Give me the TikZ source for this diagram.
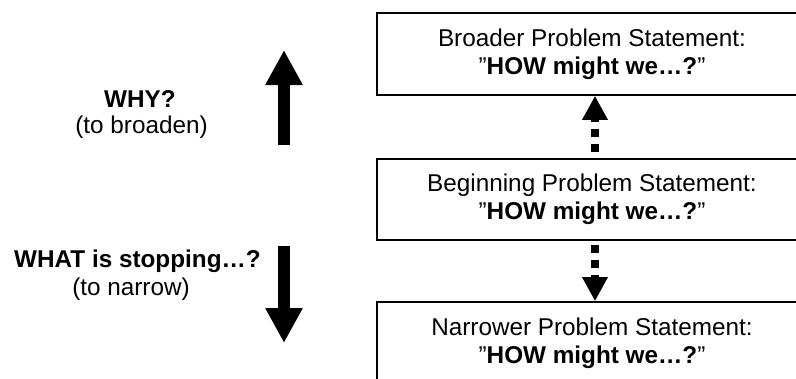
\documentclass[tikz,border=0pt]{standalone}
\usepackage{fontspec}
\setmainfont{Liberation Sans}
\usetikzlibrary{arrows.meta}
\begin{document}
\begin{tikzpicture}[x=1pt,y=-1pt,
  stmt/.style={draw=black, line width=1.6pt, minimum width=430pt,
    minimum height=82pt, inner sep=0pt, align=center,
    font=\fontsize{24.3}{28}\selectfont},
  lbl/.style={font=\fontsize{24.3}{26}\selectfont, anchor=base, inner sep=0pt},
  bigarrow/.style={line width=12.3pt, -{Triangle[length=35pt,width=35pt]}},
  hop/.style={line width=8pt, dash pattern=on 8pt off 7pt,
    -{Triangle[length=24pt,width=24pt]}}
]
\useasboundingbox (0,0) rectangle (796,378);

% problem statements, from broad to narrow
\node[stmt] (broad) at (592,54)
  {Broader Problem Statement:\\”\textbf{HOW might we…?}”};
\node[stmt, minimum height=81pt] (begin) at (592,199.5)
  {Beginning Problem Statement:\\”\textbf{HOW might we…?}”};
\node[stmt] (narrow) at (592,343)
  {Narrower Problem Statement:\\”\textbf{HOW might we…?}”};

% dotted links between the statements
\draw[hop, dash phase=9pt] ([xshift=3pt]begin.north) -- ([xshift=3pt]broad.south);
\draw[hop, dash phase=11pt] ([xshift=3pt]begin.south) -- ([xshift=3pt]narrow.north);

% side labels
\node[lbl] (why) at (140,107.3) {\textbf{WHY?}};
\node[lbl] (whysub) at (141.5,133.3) {(to broaden)};
\node[lbl] (what) at (137.5,267.3) {\textbf{WHAT is stopping…?}};
\node[lbl] (whatsub) at (131,295) {(to narrow)};

% big direction arrows
\coordinate (upfoot) at (284,145);
\coordinate (uptip) at (284,50);
\coordinate (downtop) at (284,246);
\coordinate (downtip) at (284,343);
\draw[bigarrow] (upfoot) -- (uptip);
\draw[bigarrow] (downtop) -- (downtip);
\end{tikzpicture}
\end{document}
